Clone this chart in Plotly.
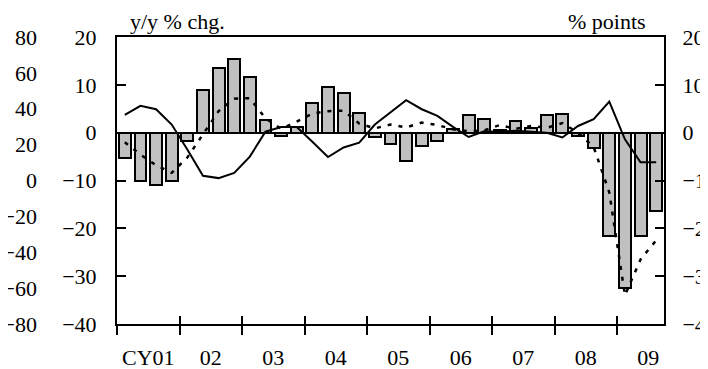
import plotly.graph_objects as go

# Quarterly data 2001Q1 - 2009Q3
years = ["CY01", "02", "03", "04", "05", "06", "07", "08", "09"]
bars = [-5.3, -10.1, -11.0, -10.1,
        -1.7, 8.9, 13.5, 15.4,
        11.7, 2.7, -0.7, 1.2,
        6.1, 9.6, 8.3, 4.1,
        -0.9, -2.3, -6.0, -2.7,
        -1.7, 0.8, 3.6, 2.8,
        0.6, 2.4, 0.9, 3.7,
        3.8, -0.6, -3.3, -21.7,
        -32.5, -21.7, -16.4]
solid = [3.7, 5.6, 4.9, 1.7,
         -3.5, -9.0, -9.5, -8.4,
         -5.0, 0.2, 1.2, 1.2,
         -1.9, -5.1, -3.1, -2.1,
         1.7, 4.2, 6.8, 4.9,
         3.5, 1.2, -0.9, 0.3,
         0.2, 0.4, 0.2, 0.0,
         -1.0, 1.4, 2.8, 6.5,
         -1.4, -6.2, -6.2]
dotted = [-2.0, -4.6, -6.8, -8.4,
          -5.2, -0.3, 4.5, 7.1,
          7.2, 3.0, 0.8, 2.3,
          4.0, 4.5, 4.6, 1.9,
          0.9, 1.7, 1.1, 2.1,
          1.6, 0.7, 0.3, 0.5,
          1.6, 0.8, 1.4, 1.0,
          2.0, 0.0, -3.0, -12.5,
          -34.0, -26.5, -22.5]
outer_ticks = [80, 60, 40, 20, 0, -20, -40, -60, -80]
inner_ticks = [20, 10, 0, -10, -20, -30, -40]

n = len(bars)
xq = list(range(n))
label_pos = [4 * i + 1.5 for i in range(len(years))]
boundaries = [4 * i - 0.5 for i in range(len(years))]

FONT = "Liberation Serif"
FS = 22
# page body has an 8px margin, so the figure is sized to fit inside the 708x369 window
W, H = 700, 361
ml, mr, mt, mb = 0, 44, 29, 45
pw = W - ml - mr
ph = H - mt - mb
x0 = 109 / pw

fig = go.Figure()
fig.add_trace(go.Bar(x=xq, y=bars, width=0.76, marker=dict(color="#c0c0c0", line=dict(color="black", width=2)),
                     showlegend=False))
fig.add_trace(go.Scatter(x=xq, y=dotted, mode="lines", line=dict(color="black", width=2.5, dash="4px,7px"),
                         showlegend=False))
fig.add_trace(go.Scatter(x=xq, y=solid, mode="lines", line=dict(color="black", width=2),
                         showlegend=False))
# helper traces for overlay axes
fig.add_trace(go.Scatter(x=[None], y=[None], xaxis="x2", yaxis="y2", showlegend=False, hoverinfo="skip"))
fig.add_trace(go.Scatter(x=[None], y=[None], xaxis="x3", yaxis="y3", showlegend=False, hoverinfo="skip"))

rng = [-0.5, n - 0.5]
fig.update_layout(
    width=W, height=H,
    margin=dict(l=ml, r=mr, t=mt, b=mb, autoexpand=False),
    plot_bgcolor="white", paper_bgcolor="white",
    font=dict(family=FONT, size=FS, color="black"),
    bargap=0,
    xaxis=dict(domain=[x0, 1], range=rng, tickmode="array", tickvals=label_pos, ticktext=years,
               ticks="", showline=True, linecolor="black", linewidth=2, mirror=True, automargin=False,
               showgrid=False, zeroline=False, ticklabelstandoff=13,
               minor=dict(tickmode="array", tickvals=boundaries, ticks="outside", ticklen=9,
                          tickwidth=2, tickcolor="black")),
    xaxis2=dict(domain=[x0, 1], range=rng, overlaying="x", anchor="y", side="bottom", automargin=False,
                tickmode="array", tickvals=boundaries[1:], ticks="inside", ticklen=8, tickwidth=2,
                tickcolor="black", showticklabels=False, showline=False, showgrid=False, zeroline=False),
    xaxis3=dict(domain=[x0, 1], range=rng, overlaying="x", anchor="y", visible=False, automargin=False),
    yaxis=dict(range=[-40, 20], tickmode="array", tickvals=inner_ticks, ticks="inside", ticklen=9,
               tickwidth=2, tickcolor="black", showline=True, linecolor="black", linewidth=2,
               showgrid=False, zeroline=True, zerolinecolor="black", zerolinewidth=2,
               ticklabelstandoff=14, automargin=False),
    yaxis2=dict(range=[-40, 20], overlaying="y", side="right", anchor="x", tickmode="array",
                tickvals=inner_ticks, ticks="inside", ticklen=9, tickwidth=2, tickcolor="black",
                showline=True, linecolor="black", linewidth=2, showgrid=False, zeroline=False,
                ticklabelstandoff=12, automargin=False),
    yaxis3=dict(range=[-80, 80], overlaying="y", side="left", anchor="free", position=29 / pw,
                tickmode="array", tickvals=outer_ticks, ticks="", showline=False, showgrid=False,
                zeroline=False, automargin=False),
    annotations=[
        dict(text="y/y % chg.", x=120 / pw, y=1 + 16 / ph, xref="paper", yref="paper",
             xanchor="left", yanchor="middle", showarrow=False, font=dict(size=FS)),
        dict(text="% points", x=640 / pw, y=1 + 16 / ph, xref="paper", yref="paper",
             xanchor="right", yanchor="middle", showarrow=False, font=dict(size=FS)),
    ],
)
fig.write_html("out.html")
